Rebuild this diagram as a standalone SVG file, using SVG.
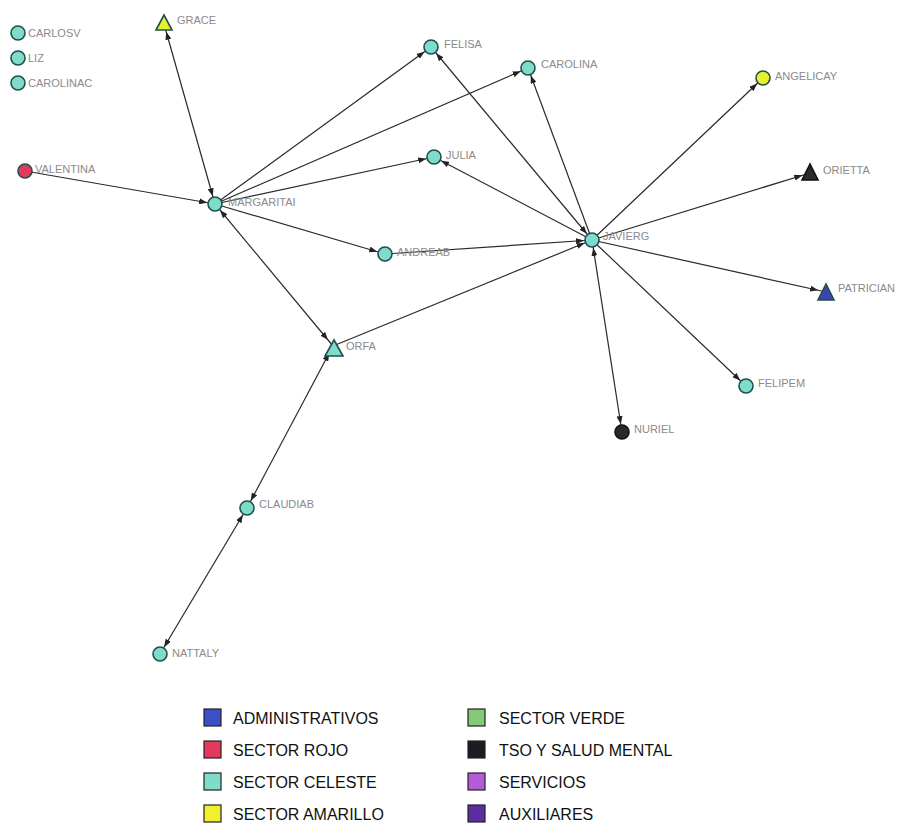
<svg xmlns="http://www.w3.org/2000/svg" width="919" height="828" viewBox="0 0 919 828">
<style>
.bg{fill:#ffffff}
.e{stroke:#2a2a2a;stroke-width:1.2;fill:none}
.one{marker-end:url(#ah)}
.two{marker-start:url(#ah);marker-end:url(#ah)}
.n{stroke:#1f4f4a;stroke-width:1.6}
.cel{fill:#7fdccb}
.roj{fill:#e23a5e}
.ama{fill:#e6f030}
.tso{fill:#2a2a2a;stroke:#111}
.adm{fill:#3c45b0}
.lbl{font-family:"Liberation Sans",Arial,sans-serif;font-size:11px;fill:#8a8a8a}
.lg{font-family:"Liberation Sans",Arial,sans-serif;font-size:16px;fill:#111}
.sq{stroke:#222;stroke-width:1.2}
</style>
<defs>
<marker id="ah" viewBox="0 0 8 6" refX="16" refY="3" markerWidth="8" markerHeight="6" markerUnits="userSpaceOnUse" orient="auto-start-reverse">
<path d="M0,0 L8,3 L0,6 z" fill="#222"/>
</marker>
</defs>
<rect class="bg" x="0" y="0" width="919" height="828"/>
<g id="connectors">
<line class="e two" x1="164" y1="24" x2="215" y2="204"/>
<line class="e one" x1="25" y1="171" x2="215" y2="204"/>
<line class="e one" x1="215" y1="204" x2="431" y2="47"/>
<line class="e one" x1="215" y1="204" x2="528" y2="68"/>
<line class="e one" x1="215" y1="204" x2="434" y2="157"/>
<line class="e one" x1="215" y1="204" x2="385" y2="254"/>
<line class="e two" x1="215" y1="204" x2="333" y2="346"/>
<line class="e one" x1="385" y1="254" x2="592" y2="240"/>
<line class="e one" x1="333" y1="346" x2="592" y2="240"/>
<line class="e two" x1="592" y1="240" x2="431" y2="47"/>
<line class="e one" x1="592" y1="240" x2="528" y2="68"/>
<line class="e one" x1="592" y1="240" x2="434" y2="157"/>
<line class="e one" x1="592" y1="240" x2="763" y2="78"/>
<line class="e one" x1="592" y1="240" x2="810" y2="173"/>
<line class="e one" x1="592" y1="240" x2="826" y2="292"/>
<line class="e one" x1="592" y1="240" x2="746" y2="386"/>
<line class="e two" x1="592" y1="240" x2="622" y2="432"/>
<line class="e two" x1="333" y1="346" x2="247" y2="508"/>
<line class="e two" x1="247" y1="508" x2="160" y2="654"/>
</g>
<g id="CARLOSV"><circle class="n cel" cx="18" cy="33" r="7"/><text class="lbl" x="28" y="37">CARLOSV</text></g>
<g id="LIZ"><circle class="n cel" cx="18" cy="58" r="7"/><text class="lbl" x="28" y="62">LIZ</text></g>
<g id="CAROLINAC"><circle class="n cel" cx="18" cy="83" r="7"/><text class="lbl" x="28" y="87">CAROLINAC</text></g>
<g id="GRACE"><polygon class="n ama" points="164,15 156,30 172,30"/><text class="lbl" x="177" y="24">GRACE</text></g>
<g id="VALENTINA"><circle class="n roj" cx="25" cy="171" r="7"/><text class="lbl" x="35" y="173">VALENTINA</text></g>
<g id="MARGARITAI"><circle class="n cel" cx="215" cy="204" r="7"/><text class="lbl" x="228" y="206">MARGARITAI</text></g>
<g id="FELISA"><circle class="n cel" cx="431" cy="47" r="7"/><text class="lbl" x="444" y="48">FELISA</text></g>
<g id="CAROLINA"><circle class="n cel" cx="528" cy="68" r="7"/><text class="lbl" x="541" y="68">CAROLINA</text></g>
<g id="JULIA"><circle class="n cel" cx="434" cy="157" r="7"/><text class="lbl" x="446" y="159">JULIA</text></g>
<g id="ANGELICAY"><circle class="n ama" cx="763" cy="78" r="7"/><text class="lbl" x="775" y="80">ANGELICAY</text></g>
<g id="ORIETTA"><polygon class="n tso" points="810,164 802,180 818,180"/><text class="lbl" x="823" y="174">ORIETTA</text></g>
<g id="JAVIERG"><circle class="n cel" cx="592" cy="240" r="7"/><text class="lbl" x="603" y="240">JAVIERG</text></g>
<g id="ANDREAB"><circle class="n cel" cx="385" cy="254" r="7"/><text class="lbl" x="397" y="256">ANDREAB</text></g>
<g id="PATRICIAN"><polygon class="n adm" points="826,284 818,300 834,300"/><text class="lbl" x="838" y="292">PATRICIAN</text></g>
<g id="ORFA"><polygon class="n cel" points="334,340 325,356 343,356"/><text class="lbl" x="346" y="350">ORFA</text></g>
<g id="FELIPEM"><circle class="n cel" cx="746" cy="386" r="7"/><text class="lbl" x="758" y="387">FELIPEM</text></g>
<g id="NURIEL"><circle class="n tso" cx="622" cy="432" r="7"/><text class="lbl" x="634" y="433">NURIEL</text></g>
<g id="CLAUDIAB"><circle class="n cel" cx="247" cy="508" r="7"/><text class="lbl" x="259" y="508">CLAUDIAB</text></g>
<g id="NATTALY"><circle class="n cel" cx="160" cy="654" r="7"/><text class="lbl" x="172" y="657">NATTALY</text></g>
<g id="legend">
<rect class="sq" x="204" y="709" width="17" height="17" fill="#3c4fc4"/><text class="lg" x="233" y="724">ADMINISTRATIVOS</text>
<rect class="sq" x="204" y="741" width="17" height="17" fill="#e23a5e"/><text class="lg" x="233" y="756">SECTOR ROJO</text>
<rect class="sq" x="204" y="773" width="17" height="17" fill="#7fdccb"/><text class="lg" x="233" y="788">SECTOR CELESTE</text>
<rect class="sq" x="204" y="805" width="17" height="17" fill="#f0f030"/><text class="lg" x="233" y="820">SECTOR AMARILLO</text>
<rect class="sq" x="468" y="709" width="17" height="17" fill="#84c878"/><text class="lg" x="499" y="724">SECTOR VERDE</text>
<rect class="sq" x="468" y="741" width="17" height="17" fill="#1e1a24"/><text class="lg" x="499" y="756">TSO Y SALUD MENTAL</text>
<rect class="sq" x="468" y="773" width="17" height="17" fill="#b45cd8"/><text class="lg" x="499" y="788">SERVICIOS</text>
<rect class="sq" x="468" y="805" width="17" height="17" fill="#5a2ea0"/><text class="lg" x="499" y="820">AUXILIARES</text>
</g>
</svg>
